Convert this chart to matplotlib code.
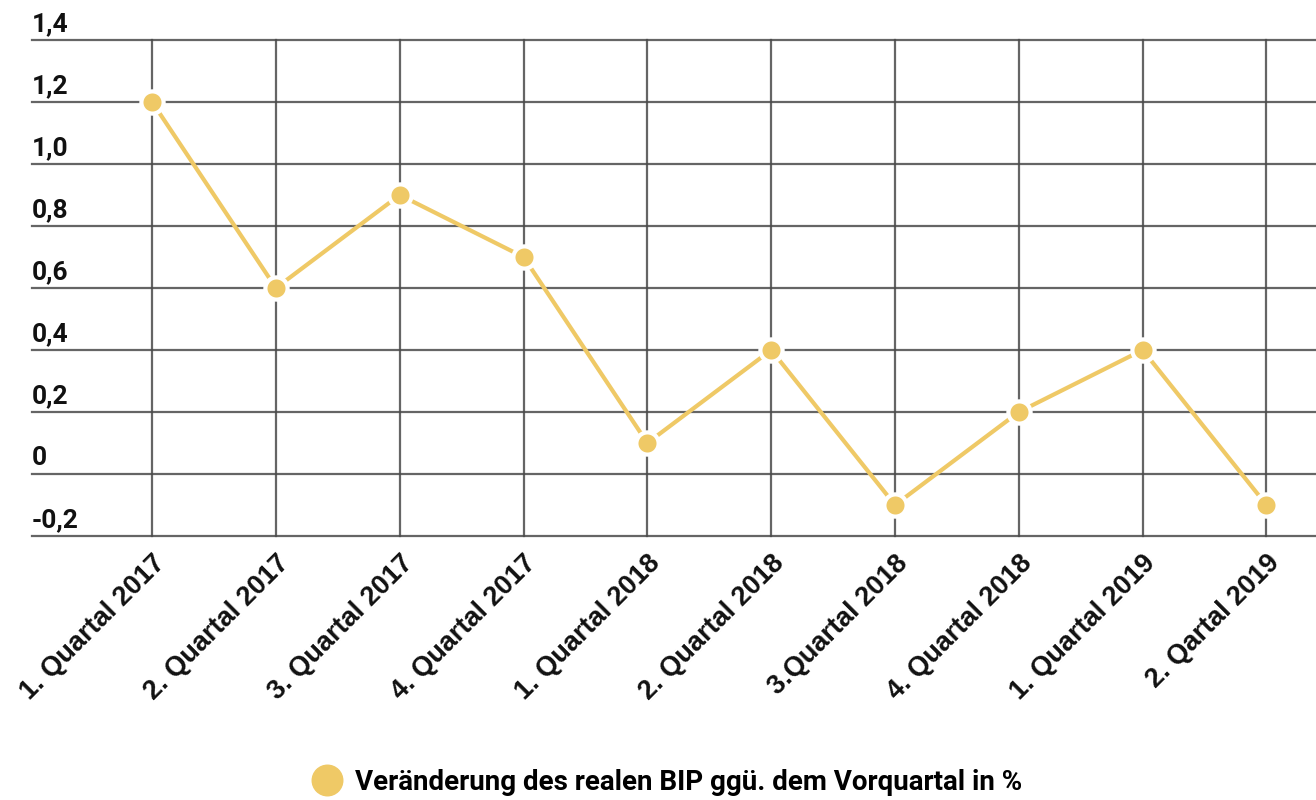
import matplotlib
matplotlib.use("Agg")
import matplotlib.pyplot as plt
import matplotlib.transforms as mtransforms
from matplotlib.lines import Line2D

# Data
quarters = [
    "1. Quartal 2017", "2. Quartal 2017", "3. Quartal 2017", "4. Quartal 2017",
    "1. Quartal 2018", "2. Quartal 2018", "3.Quartal 2018", "4. Quartal 2018",
    "1. Quartal 2019", "2. Qartal 2019",
]
bip_change = [1.2, 0.6, 0.9, 0.7, 0.1, 0.4, -0.1, 0.2, 0.4, -0.1]
y_ticks = [-0.2, 0, 0.2, 0.4, 0.6, 0.8, 1.0, 1.2, 1.4]
y_labels = ["-0,2", "0", "0,2", "0,4", "0,6", "0,8", "1,0", "1,2", "1,4"]
legend_label = "Veränderung des realen BIP ggü. dem Vorquartal in %"

LINE_COLOR = "#EFC966"
GRID_COLOR = "#4a4a4a"

fig = plt.figure(figsize=(13.16, 8), dpi=100)
ax = fig.add_axes([32 / 1316, 1 - 536 / 800, 1 - 32 / 1316, 496 / 800])

x = list(range(len(quarters)))
ax.plot(x, bip_change, color=LINE_COLOR, lw=3, marker="o", ms=16,
        mfc=LINE_COLOR, mec="white", mew=3, zorder=3, clip_on=False)

ax.set_xlim(-0.97, 9.4)
ax.set_ylim(-0.2, 1.4)
ax.set_xticks(x)
ax.set_xticklabels(quarters, rotation=45, ha="right", va="top",
                   rotation_mode="anchor", fontsize=19.5, fontweight="bold",
                   family="Liberation Sans", color="#111111")
ax.set_yticks(y_ticks)
ax.set_yticklabels([])
ax.tick_params(length=0, pad=10)

ax.grid(True, color=GRID_COLOR, lw=1.6, alpha=0.85)
for gl in ax.get_ygridlines() + ax.get_xgridlines():
    gl.set_clip_on(False)
for s in ax.spines.values():
    s.set_visible(False)

# y labels sit above their gridline, left aligned
offset = mtransforms.offset_copy(ax.get_yaxis_transform(), fig=fig, x=0, y=9, units="dots")
for v, lab in zip(y_ticks, y_labels):
    ax.text(0, v, lab, transform=offset, ha="left", va="baseline",
            fontsize=19, fontweight="bold", family="Roboto", color="#111111")

handle = Line2D([], [], ls="none", marker="o", ms=22, color=LINE_COLOR)
fig.legend(handles=[handle], labels=[legend_label], loc="center",
           bbox_to_anchor=(668 / 1316, 1 - 782 / 800), frameon=False,
           prop={"family": "Roboto", "weight": "bold", "size": 20},
           handletextpad=0.5, handlelength=1.0)

fig.savefig("out.png", dpi=100)
